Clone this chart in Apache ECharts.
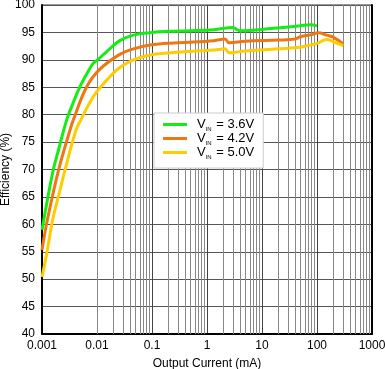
<!DOCTYPE html>
<html><head><meta charset="utf-8">
<script src="https://cdn.jsdelivr.net/npm/echarts@6/dist/echarts.min.js"></script>
<style>html,body{margin:0;padding:0;background:#fff}#c{width:385px;height:369px}</style>
</head><body><div id="c"></div>
<script>
const FONT = '"Liberation Sans", Arial, sans-serif';
const xTickLabels = ['0.001','0.01','0.1','1','10','100','1000'];
const yTickLabels = [40,45,50,55,60,65,70,75,80,85,90,95,100];
const seriesNames = ['3.6V','4.2V','5.0V'];

const curGreen = [0.001,0.00125,0.0016,0.002,0.0028,0.0035,0.0049,0.007,0.0086,0.01,0.015,0.026,0.046,0.092,0.2,0.5,1.34,3.0,3.5,4.0,16,30,49,75,100];
const effGreen = [59.0,64.4,69.9,73.6,79.0,81.6,85.1,88.0,89.4,89.9,91.5,93.5,94.5,94.95,95.2,95.3,95.5,95.9,95.5,95.3,95.75,96.0,96.2,96.4,96.2];

const curOrange = [0.001,0.00125,0.002,0.00323,0.0037,0.0065,0.0113,0.026,0.046,0.092,0.3,1.34,2.12,2.54,5,20,40,50,80,106,150,200,300];
const effOrange = [55.3,60.8,69.9,77.2,79.0,85.1,88.3,91.0,92.0,92.7,93.1,93.5,93.8,93.1,93.4,93.6,93.8,94.2,94.6,94.95,94.5,94.1,92.9];

const curYellow = [0.001,0.00122,0.00156,0.002,0.00262,0.00415,0.00505,0.00857,0.015,0.026,0.046,0.092,0.3,1.34,2.12,2.54,5,20,50,60,100,150,200,300];
const effYellow = [50.4,54.7,60.8,65.2,69.9,77.2,79.0,83.3,86.3,88.6,90.0,90.9,91.4,91.8,92.0,91.3,91.6,92.0,92.3,92.5,93.0,93.7,93.3,92.6];

const colors = ['#11ee11','#ee7711','#ffcc00'];

const minorGridValues = [];
for (let e = -3; e < 3; e++) for (let m = 2; m <= 9; m++) minorGridValues.push(m * Math.pow(10, e));

const zip = (a, b) => a.map((v, i) => [v, b[i]]);

const chart = echarts.init(document.getElementById('c'), null, {renderer: 'canvas'});
chart.setOption({
  animation: false,
  grid: {left: 42, right: 13, top: 5, bottom: 35, show: true, borderColor: '#333', borderWidth: 1,
         containLabel: false, outerBoundsMode: 'none'},
  legend: {
    data: seriesNames,
    orient: 'vertical',
    left: 154, top: 113, z: 10,
    padding: [5, 9, 8, 9],
    itemGap: 0,
    itemWidth: 24, itemHeight: 3,
    icon: 'rect',
    backgroundColor: '#fff',
    borderColor: '#cccccc', borderWidth: 1,
    formatter: n => '{v|V}{s|IN}{t| = ' + n + '}',
    textStyle: {
      padding: [0, 0, 0, 5],
      rich: {
        v: {fontSize: 13, fontFamily: FONT, color: '#000', lineHeight: 15},
        s: {fontSize: 6, fontFamily: FONT, color: '#000', verticalAlign: 'bottom', lineHeight: 11, padding: [0, 1, 0, 0]},
        t: {fontSize: 13, fontFamily: FONT, color: '#000', lineHeight: 15}
      }
    }
  },
  xAxis: {
    type: 'log', logBase: 10, min: 0.001, max: 1000,
    name: 'Output Current (mA)', nameLocation: 'middle', nameGap: 24, nameMoveOverlap: false,
    nameTextStyle: {fontSize: 12, fontFamily: FONT, color: '#000'},
    axisLine: {show: true, lineStyle: {color: '#000', width: 2}},
    axisTick: {show: false},
    axisLabel: {margin: 6, fontSize: 12, fontFamily: FONT, color: '#000',
      formatter: v => { const e = Math.round(Math.log10(v)); return xTickLabels[e + 3]; }},
    splitLine: {show: true, lineStyle: {color: '#444', width: 1}}
  },
  yAxis: [{
    type: 'value', min: 40, max: 100, interval: 5,
    name: 'Efficiency (%)', nameLocation: 'middle', nameGap: 30, nameMoveOverlap: false,
    nameTextStyle: {fontSize: 12, fontFamily: FONT, color: '#000'},
    axisLine: {show: true, lineStyle: {color: '#000', width: 2}},
    axisTick: {show: false},
    axisLabel: {margin: 7, fontSize: 12, fontFamily: FONT, color: '#000',
      formatter: v => String(yTickLabels[Math.round((v - 40) / 5)])},
    splitLine: {show: true, lineStyle: {color: '#555', width: 1}}
  }, {
    type: 'value', min: 40, max: 100, interval: 5, position: 'right',
    axisLine: {show: true, lineStyle: {color: '#000', width: 2}},
    axisTick: {show: false}, axisLabel: {show: false}, splitLine: {show: false}
  }],
  series: [
    {
      type: 'line', name: 'grid', data: [], silent: true, z: 1,
      markLine: {
        silent: true, symbol: 'none', label: {show: false}, animation: false, z: 1,
        lineStyle: {color: '#888', width: 1, type: 'solid'},
        emphasis: {disabled: true},
        data: minorGridValues.map(v => ({xAxis: v}))
      }
    },
    {type: 'line', name: seriesNames[0], data: zip(curGreen, effGreen), showSymbol: false, smooth: 0.4,
      lineStyle: {color: colors[0], width: 3}, itemStyle: {color: colors[0]}, z: 3},
    {type: 'line', name: seriesNames[1], data: zip(curOrange, effOrange), showSymbol: false, smooth: 0.4,
      lineStyle: {color: colors[1], width: 3}, itemStyle: {color: colors[1]}, z: 3},
    {type: 'line', name: seriesNames[2], data: zip(curYellow, effYellow), showSymbol: false, smooth: 0.4,
      lineStyle: {color: colors[2], width: 3}, itemStyle: {color: colors[2]}, z: 3}
  ]
});
</script></body></html>
